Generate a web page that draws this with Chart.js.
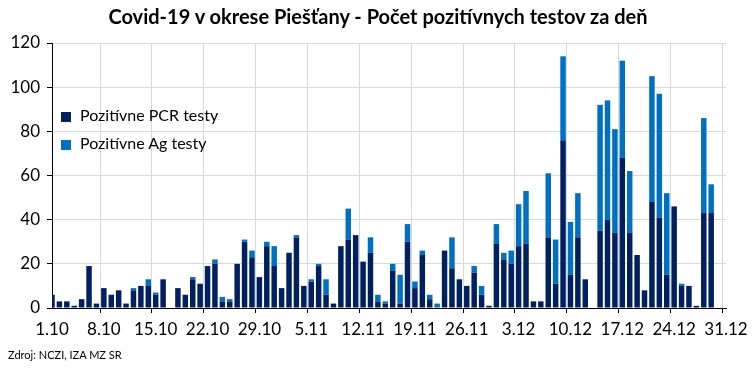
<!DOCTYPE html>
<html lang="sk">
<head>
<meta charset="UTF-8">
<title>Covid-19 v okrese Piešťany</title>
<script src="https://cdn.jsdelivr.net/npm/chart.js"></script>
<style>
    body { margin: 0; background: #fff; }
    .wrap { position: relative; width: 756px; height: 378px; font-family: Lato, 'Liberation Sans', sans-serif; color: #000; }
    .title { position: absolute; left: 0; top: 4px; width: 756px; text-align: center; font-weight: bold; font-size: 20px; }
    .legend { position: absolute; left: 61px; top: 103px; font-size: 16px; }
    .legend div { height: 28px; line-height: 24px; }
    .sw { display: inline-block; width: 10px; height: 10px; margin-right: 9px; vertical-align: -1px; }
    .source { position: absolute; left: 8px; top: 348px; font-size: 11px; }
</style>
</head>
<body>
<div class="wrap">
    <canvas id="graf" width="756" height="378"></canvas>
    <div class="title">Covid-19 v okrese Piešťany - Počet pozitívnych testov za deň</div>
    <div class="legend">
        <div><span class="sw" style="background:#002060"></span>Pozitívne PCR testy</div>
        <div><span class="sw" style="background:#0070C0"></span>Pozitívne Ag testy</div>
    </div>
    <div class="source">Zdroj: NCZI, IZA MZ SR</div>
</div>
<script>
    // dni 1.10 - 31.12
    var dni = [
        '1.10','2.10','3.10','4.10','5.10','6.10','7.10','8.10','9.10','10.10','11.10','12.10','13.10','14.10','15.10','16.10',
        '17.10','18.10','19.10','20.10','21.10','22.10','23.10','24.10','25.10','26.10','27.10','28.10','29.10','30.10','31.10',
        '1.11','2.11','3.11','4.11','5.11','6.11','7.11','8.11','9.11','10.11','11.11','12.11','13.11','14.11','15.11',
        '16.11','17.11','18.11','19.11','20.11','21.11','22.11','23.11','24.11','25.11','26.11','27.11','28.11','29.11','30.11',
        '1.12','2.12','3.12','4.12','5.12','6.12','7.12','8.12','9.12','10.12','11.12','12.12','13.12','14.12','15.12','16.12',
        '17.12','18.12','19.12','20.12','21.12','22.12','23.12','24.12','25.12','26.12','27.12','28.12','29.12','30.12','31.12'
    ];
    var popisky = ['1.10','8.10','15.10','22.10','29.10','5.11','12.11','19.11','26.11','3.12','10.12','17.12','24.12','31.12'];
    var yTicks = [0, 20, 40, 60, 80, 100, 120];

    var pcr = [
        6, 3, 3, 1, 4, 19, 2, 9, 6, 8, 2, 8, 10, 10, 6, 13,
        0, 9, 6, 13, 11, 19, 20, 3, 3, 20, 30, 23, 14, 28, 19,
        9, 25, 32, 10, 12, 19, 6, 2, 28, 31, 33, 21, 25, 3, 2,
        17, 2, 30, 9, 24, 4, 0, 26, 18, 13, 10, 16, 6, 1, 29,
        22, 20, 28, 29, 3, 3, 32, 11, 76, 15, 32, 13, 0, 35, 40, 34,
        68, 34, 24, 8, 48, 41, 15, 46, 10, 10, 1, 43, 43
    ];
    var ag = [
        0, 0, 0, 0, 0, 0, 0, 0, 0, 0, 0, 1, 0, 3, 1, 0,
        0, 0, 0, 1, 0, 0, 2, 2, 1, 0, 1, 3, 0, 2, 9,
        0, 0, 1, 0, 1, 1, 7, 0, 0, 14, 0, 0, 7, 3, 1,
        3, 13, 8, 3, 2, 2, 2, 0, 14, 0, 0, 3, 4, 0, 9,
        3, 6, 19, 24, 0, 0, 29, 20, 38, 24, 20, 0, 0, 57, 54, 47,
        44, 28, 0, 0, 57, 56, 37, 0, 1, 0, 0, 43, 13
    ];

    var tyzden = new Set(popisky);
    var pismo = { family: 'Lato, "Liberation Sans", sans-serif', size: 17 };

    new Chart(document.getElementById('graf'), {
        type: 'bar',
        data: {
            labels: dni,
            datasets: [
                { label: 'Pozitívne PCR testy', data: pcr, backgroundColor: '#002060', clip: 0 },
                { label: 'Pozitívne Ag testy', data: ag, backgroundColor: '#0070C0', clip: 0 }
            ]
        },
        options: {
            responsive: false,
            animation: false,
            layout: { padding: { left: 0, right: 30, top: 43, bottom: 0 } },
            datasets: { bar: { categoryPercentage: 1, barPercentage: 0.74 } },
            scales: {
                x: {
                    stacked: true,
                    offset: false,
                    border: { color: '#000', width: 1 },
                    grid: {
                        tickLength: 5,
                        color: function (c) { return tyzden.has(dni[c.index]) ? '#d9d9d9' : 'rgba(0,0,0,0)'; },
                        tickColor: function (c) { return tyzden.has(dni[c.index]) ? '#000' : 'rgba(0,0,0,0)'; }
                    },
                    ticks: {
                        autoSkip: false,
                        maxRotation: 0,
                        minRotation: 0,
                        padding: 6,
                        color: '#000',
                        font: pismo,
                        callback: function (v) {
                            var t = this.getLabelForValue(v);
                            return tyzden.has(t) ? t : '';
                        }
                    },
                    afterFit: function (s) { s.height = 70; }
                },
                y: {
                    stacked: true,
                    min: 0,
                    max: 120,
                    border: { color: '#000', width: 1 },
                    grid: { color: '#d9d9d9', tickColor: '#000', tickLength: 5 },
                    afterBuildTicks: function (s) { s.ticks = yTicks.map(function (v) { return { value: v }; }); },
                    ticks: { color: '#000', font: pismo, padding: 7 },
                    afterFit: function (s) { s.width = 52; }
                }
            },
            plugins: {
                legend: { display: false },
                tooltip: { enabled: false }
            }
        }
    });
</script>
</body>
</html>
